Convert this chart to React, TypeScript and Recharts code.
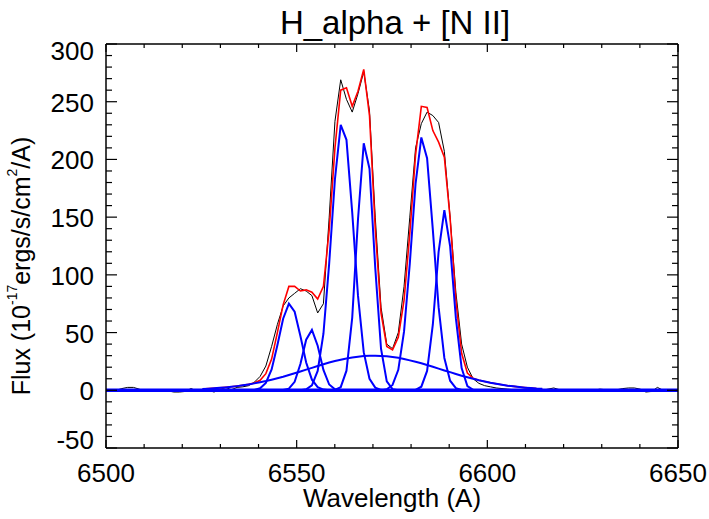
import { LineChart, Line, XAxis, YAxis } from 'recharts'

// Observed spectrum (black), sampled every ~1.51 A
const WAVE = [
  6501.15, 6502.66, 6504.17, 6505.68, 6507.19, 6508.7, 6510.21, 6511.72, 6513.23, 6514.74,
  6516.25, 6517.76, 6519.27, 6520.78, 6522.29, 6523.8, 6525.31, 6526.82, 6528.33, 6529.84,
  6531.35, 6532.86, 6534.37, 6535.88, 6537.39, 6538.9, 6540.41, 6541.92, 6543.43, 6544.94,
  6546.45, 6547.96, 6549.47, 6550.98, 6552.49, 6554.0, 6555.51, 6557.02, 6558.53, 6560.04,
  6561.55, 6563.06, 6564.57, 6566.08, 6567.59, 6569.1, 6570.61, 6572.12, 6573.63, 6575.14,
  6576.65, 6578.16, 6579.67, 6581.18, 6582.69, 6584.2, 6585.71, 6587.22, 6588.73, 6590.24,
  6591.75, 6593.26, 6594.77, 6596.28, 6597.79, 6599.3, 6600.81, 6602.32, 6603.83, 6605.34,
  6606.85, 6608.36, 6609.87, 6611.38, 6612.89, 6614.4, 6615.91, 6617.42, 6618.93, 6620.44,
  6621.95, 6623.46, 6624.97, 6626.48, 6627.99, 6629.5, 6631.01, 6632.52, 6634.03, 6635.54,
  6637.05, 6638.56, 6640.07, 6641.58, 6643.09, 6644.6, 6646.11, 6647.62, 6649.13,
]
const OBSERVED = [
  0.5, 0, 1.5, 2.5, 2.5, 1, -1, -1, 0, 0.5,
  -0.5, -1.5, -1.5, -1, 1.5, -0.5, -1, 0, -1.5, 0.5,
  2.5, 0.5, 2.5, 3, 4, 7, 12, 21, 38, 57,
  73, 80, 84, 88, 86, 82, 67, 75, 150, 233,
  269, 252, 241, 257, 276, 242, 150, 72, 40, 36,
  50, 90, 150, 210, 231, 241, 238, 232, 207, 150,
  85, 40, 20, 10, 6, 4, 3, 2, 1.5, 1,
  0.5, 0, 0.5, -0.5, 0, 0, 1, 2, 0.5, -1,
  -0.5, 0, 0, 0.5, 0, 1, 0.5, 0, 0.5, 1.5,
  2, 2, 1, -1.5, -1, 2.5, 0, -0.5, -1,
]

// Fit grid (same pixels, line region only)
const FIT_WAVE = [
  6525.31, 6526.82, 6528.33, 6529.84, 6531.35, 6532.86, 6534.37, 6535.88, 6537.39, 6538.9,
  6540.41, 6541.92, 6543.43, 6544.94, 6546.45, 6547.96, 6549.47, 6550.98, 6552.49, 6554.0,
  6555.51, 6557.02, 6558.53, 6560.04, 6561.55, 6563.06, 6564.57, 6566.08, 6567.59, 6569.1,
  6570.61, 6572.12, 6573.63, 6575.14, 6576.65, 6578.16, 6579.67, 6581.18, 6582.69, 6584.2,
  6585.71, 6587.22, 6588.73, 6590.24, 6591.75, 6593.26, 6594.77, 6596.28, 6597.79, 6599.3,
  6600.81, 6602.32, 6603.83, 6605.34, 6606.85, 6608.36, 6609.87, 6611.38, 6612.89, 6614.4,
]
// total fit (red)
const FIT_TOTAL = [
  1.1, 1.4, 1.7, 2.1, 2.5, 3.0, 3.6, 4.3, 5.1, 6.3,
  8.7, 14.4, 27, 50, 74, 90, 90, 86, 87, 85,
  79, 90, 139, 210, 260, 262, 246, 259, 278, 238,
  140, 67, 38, 35, 46, 78, 136, 204, 246, 245,
  225, 215, 202, 149, 78, 32, 15, 10.4, 8.7, 7.6,
  6.5, 5.6, 4.8, 4.0, 3.4, 2.8, 2.3, 1.9, 1.5, 1.25,
]
// individual components (blue)
const COMP_NII_6548A = [
  0, 0, 0, 0, 0, 0, 0, 0, 0, 0.3,
  1.7, 6.4, 18, 39, 62, 75, 68, 47, 24, 9.2,
  2.7, 0.6, 0, 0, 0, 0, 0, 0, 0, 0,
  0, 0, 0, 0, 0, 0, 0, 0, 0, 0,
  0, 0, 0, 0, 0, 0, 0, 0, 0, 0,
  0, 0, 0, 0, 0, 0, 0, 0, 0, 0,
]
const COMP_NII_6548B = [
  0, 0, 0, 0, 0, 0, 0, 0, 0, 0,
  0, 0, 0, 0, 0.2, 1.4, 7.3, 22.7, 43.8, 52.3,
  38.6, 17.6, 5, 0.9, 0, 0, 0, 0, 0, 0,
  0, 0, 0, 0, 0, 0, 0, 0, 0, 0,
  0, 0, 0, 0, 0, 0, 0, 0, 0, 0,
  0, 0, 0, 0, 0, 0, 0, 0, 0, 0,
]
const COMP_HA_A = [
  0, 0, 0, 0, 0, 0, 0, 0, 0, 0,
  0, 0, 0, 0, 0, 0, 0, 0, 0.8, 4.3,
  16.8, 49, 110, 183, 230, 217, 154, 82, 33, 10,
  2.3, 0.4, 0, 0, 0, 0, 0, 0, 0, 0,
  0, 0, 0, 0, 0, 0, 0, 0, 0, 0,
  0, 0, 0, 0, 0, 0, 0, 0, 0, 0,
]
const COMP_HA_B = [
  0, 0, 0, 0, 0, 0, 0, 0, 0, 0,
  0, 0, 0, 0, 0, 0, 0, 0, 0, 0,
  0, 0, 0, 0.3, 2.7, 17, 63, 148, 214, 192,
  106, 36, 7.7, 1, 0, 0, 0, 0, 0, 0,
  0, 0, 0, 0, 0, 0, 0, 0, 0, 0,
  0, 0, 0, 0, 0, 0, 0, 0, 0, 0,
]
const COMP_NII_6583A = [
  0, 0, 0, 0, 0, 0, 0, 0, 0, 0,
  0, 0, 0, 0, 0, 0, 0, 0, 0, 0,
  0, 0, 0, 0, 0, 0, 0, 0, 0, 0,
  0, 0, 0.9, 4.6, 17.7, 51, 110, 179, 219, 201,
  139, 72, 28, 8.3, 1.8, 0.3, 0, 0, 0, 0,
  0, 0, 0, 0, 0, 0, 0, 0, 0, 0,
]
const COMP_NII_6583B = [
  0, 0, 0, 0, 0, 0, 0, 0, 0, 0,
  0, 0, 0, 0, 0, 0, 0, 0, 0, 0,
  0, 0, 0, 0, 0, 0, 0, 0, 0, 0,
  0, 0, 0, 0, 0, 0, 0, 0.3, 3.1, 16.8,
  57, 120, 156, 125, 62.5, 19.2, 3.7, 0.4, 0, 0,
  0, 0, 0, 0, 0, 0, 0, 0, 0, 0,
]
const COMP_BROAD = [
  1.1, 1.4, 1.7, 2.1, 2.5, 3.0, 3.6, 4.3, 5.1, 6.0,
  7.0, 8.0, 9.2, 10.5, 11.8, 13.3, 14.8, 16.3, 17.9, 19.4,
  21, 22.5, 24, 25.3, 26.5, 27.5, 28.4, 29.1, 29.6, 29.9,
  30, 29.8, 29.5, 28.9, 28.1, 27.1, 25.9, 24.7, 23.4, 21.9,
  20.4, 18.8, 17.2, 15.7, 14.1, 12.6, 11.3, 10.0, 8.7, 7.6,
  6.5, 5.6, 4.8, 4.0, 3.4, 2.8, 2.3, 1.9, 1.5, 1.25,
]
const CONTINUUM_WAVE = [6500, 6650]
const CONTINUUM = [0, 0]

const X_TICKS = [6500, 6510, 6520, 6530, 6540, 6550, 6560, 6570, 6580, 6590, 6600, 6610, 6620, 6630, 6640, 6650]
const Y_TICKS = [-50, -40, -30, -20, -10, 0, 10, 20, 30, 40, 50, 60, 70, 80, 90, 100, 110, 120, 130, 140,
  150, 160, 170, 180, 190, 200, 210, 220, 230, 240, 250, 260, 270, 280, 290, 300]

const FONT = '"Liberation Sans", Arial, sans-serif'
const toRows = (xs: number[], ys: number[]) => xs.map((w, i) => ({ w, f: ys[i] }))

const observedData = toRows(WAVE, OBSERVED)
const fitData = toRows(FIT_WAVE, FIT_TOTAL)
const componentData = [COMP_NII_6548A, COMP_NII_6548B, COMP_HA_A, COMP_HA_B, COMP_NII_6583A, COMP_NII_6583B, COMP_BROAD]
  .map((vals) => toRows(FIT_WAVE, vals))
const continuumData = toRows(CONTINUUM_WAVE, CONTINUUM)

const LeftTick = ({ x, y, payload }: any) => {
  const v = payload.value
  const major = v % 50 === 0
  // IDL nudges the end labels inside the frame
  const dy = v === 300 ? 7 : v === -50 ? -8 : 1
  return (
    <g>
      <line x1={x} y1={y} x2={x + (major ? 11 : 6)} y2={y} stroke="#000" strokeWidth={1.2} />
      {major && (
        <text x={x - 12} y={y + dy} textAnchor="end" dominantBaseline="central" fontSize={26} fontFamily={FONT} fill="#000">
          {v}
        </text>
      )}
    </g>
  )
}

const RightTick = ({ x, y, payload }: any) => {
  const major = payload.value % 50 === 0
  return <line x1={x} y1={y} x2={x - (major ? 11 : 6)} y2={y} stroke="#000" strokeWidth={1.2} />
}

const BottomTick = ({ x, y, payload }: any) => {
  const v = payload.value
  const major = v % 50 === 0
  return (
    <g>
      <line x1={x} y1={y} x2={x} y2={y - (major ? 8 : 4)} stroke="#000" strokeWidth={1.2} />
      {major && (
        <text x={x} y={y + 25} textAnchor="middle" dominantBaseline="central" fontSize={26} fontFamily={FONT} fill="#000">
          {v}
        </text>
      )}
    </g>
  )
}

const TopTick = ({ x, y, payload }: any) => {
  const major = payload.value % 50 === 0
  return <line x1={x} y1={y} x2={x} y2={y + (major ? 8 : 4)} stroke="#000" strokeWidth={1.2} />
}

const Title = () => (
  <text x={395} y={22} textAnchor="middle" dominantBaseline="central" fontSize={33} fontFamily={FONT} fill="#000">
    H_alpha + [N II]
  </text>
)

const XTitle = () => (
  <text x={392} y={498} textAnchor="middle" dominantBaseline="central" fontSize={26} fontFamily={FONT} fill="#000">
    Wavelength (A)
  </text>
)

const YTitle = () => (
  <text
    transform="translate(21,266) rotate(-90)"
    textAnchor="middle"
    dominantBaseline="central"
    fontSize={25}
    fontFamily={FONT}
    fill="#000"
  >
    Flux (10<tspan dy={-9} fontSize={14}>-17</tspan>
    <tspan dy={9}>ergs/s/cm</tspan>
    <tspan dy={-9} fontSize={14}>2</tspan>
    <tspan dy={9}>/A)</tspan>
  </text>
)

const axisLine = { stroke: '#000', strokeWidth: 1.5 }

export default function App() {
  return (
    <div style={{ position: 'absolute', left: 0, top: 0, width: 709, height: 519, background: '#fff' }}>
      <LineChart width={709} height={519} margin={{ top: 43, right: 30, bottom: 70, left: 105 }}>
        <XAxis
          xAxisId="b"
          type="number"
          dataKey="w"
          domain={[6500, 6650]}
          ticks={X_TICKS}
          interval={0}
          height={1}
          tickSize={0}
          tickMargin={0}
          tick={BottomTick}
          axisLine={axisLine}
          allowDataOverflow
          label={{ content: XTitle }}
        />
        <XAxis
          xAxisId="t"
          orientation="top"
          type="number"
          dataKey="w"
          domain={[6500, 6650]}
          ticks={X_TICKS}
          interval={0}
          height={1}
          tickSize={0}
          tickMargin={0}
          tick={TopTick}
          axisLine={axisLine}
          allowDataOverflow
          label={{ content: Title }}
        />
        <YAxis
          yAxisId="l"
          type="number"
          domain={[-50, 300]}
          ticks={Y_TICKS}
          interval={0}
          width={1}
          tickSize={0}
          tickMargin={0}
          tick={LeftTick}
          axisLine={axisLine}
          allowDataOverflow
          label={{ content: YTitle }}
        />
        <YAxis
          yAxisId="r"
          orientation="right"
          type="number"
          domain={[-50, 300]}
          ticks={Y_TICKS}
          interval={0}
          width={1}
          tickSize={0}
          tickMargin={0}
          tick={RightTick}
          axisLine={axisLine}
          allowDataOverflow
        />

        <Line data={observedData} dataKey="f" xAxisId="b" yAxisId="l" type="linear" stroke="#000000" strokeWidth={1} dot={false} isAnimationActive={false} />
        <Line data={fitData} dataKey="f" xAxisId="b" yAxisId="l" type="linear" stroke="#ff0000" strokeWidth={1.6} dot={false} isAnimationActive={false} />
        {componentData.map((d, i) => (
          <Line key={i} data={d} dataKey="f" xAxisId="b" yAxisId="l" type="linear" stroke="#0000ff" strokeWidth={2} dot={false} isAnimationActive={false} />
        ))}
        <Line data={continuumData} dataKey="f" xAxisId="b" yAxisId="l" type="linear" stroke="#0000ff" strokeWidth={3.5} dot={false} isAnimationActive={false} />
      </LineChart>
    </div>
  )
}
